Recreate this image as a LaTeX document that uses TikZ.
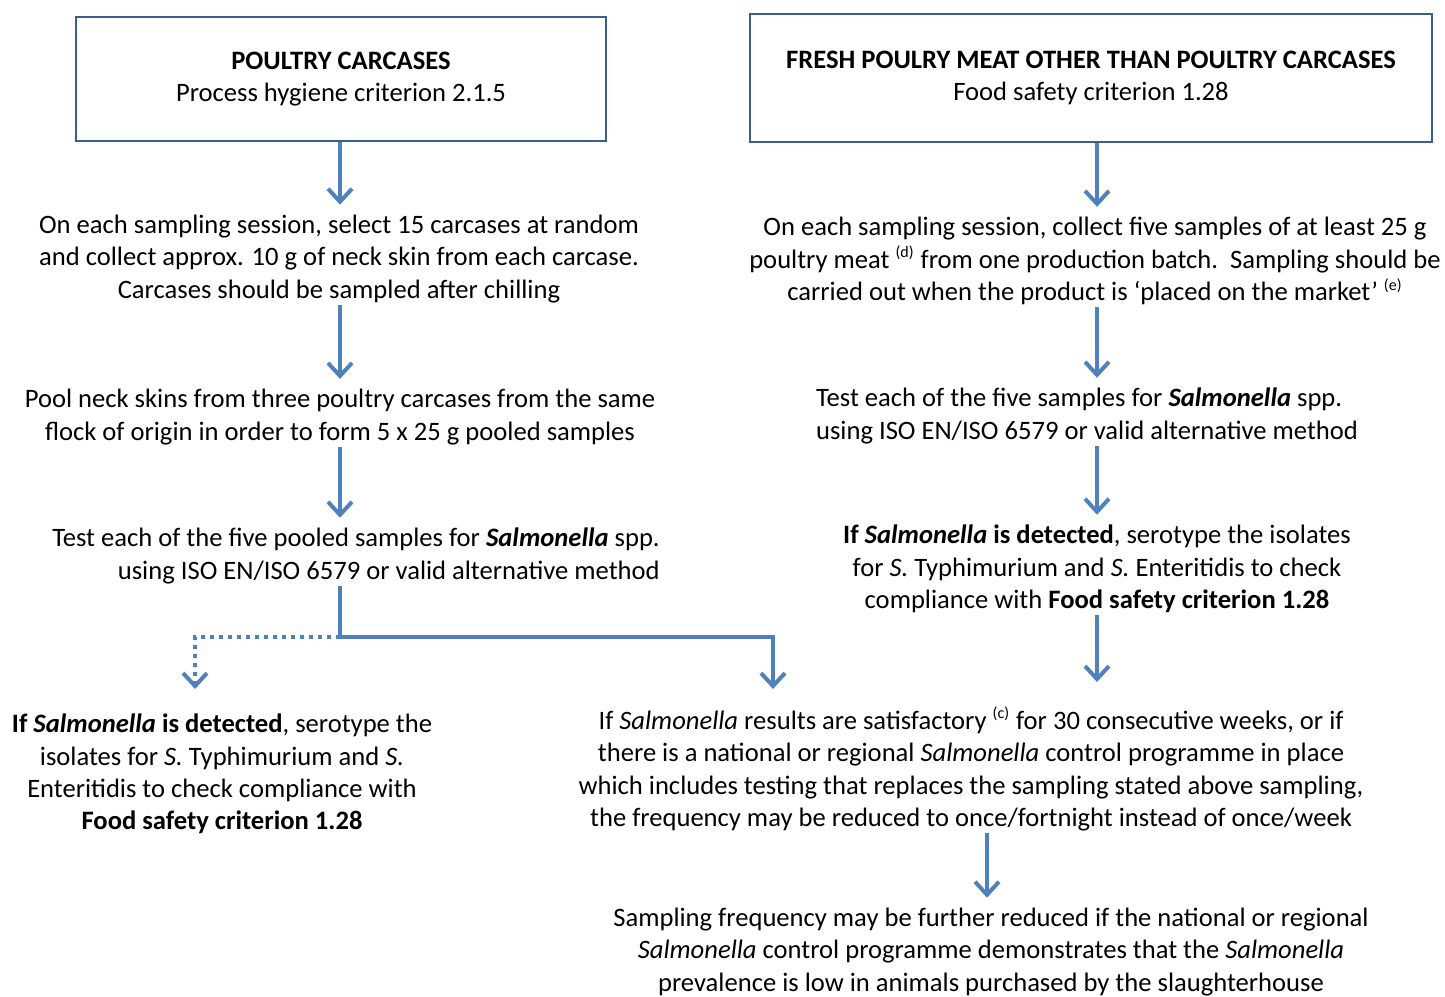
\documentclass[tikz,border=0pt]{standalone}
\usepackage{fontspec}
\setmainfont{Carlito}
\usepackage{xcolor}
\usetikzlibrary{arrows.meta,positioning}
\definecolor{flowblue}{HTML}{4F81BD}
\definecolor{boxline}{HTML}{3A5F8B}
\newcommand{\fn}[1]{\textsuperscript{\fontsize{8}{8}\selectfont(#1)}}

\begin{document}
\begin{tikzpicture}[x=0.5pt, y=-0.5pt,
    header/.style={rectangle, draw=boxline, line width=1.3pt, align=center, inner sep=0pt, font=\fontsize{13.3}{16}\selectfont},
    stage/.style={align=center, inner sep=1pt, font=\fontsize{13.3}{16.2}\selectfont},
    arrow/.style={-{Straight Barb[length=6.5pt, width=12pt]}, line width=2pt, flowblue, shorten >=4pt}
]
    \useasboundingbox (0,0) rectangle (1445,996);

    % the two headers
    \node[header, minimum width=265pt, minimum height=62pt] (carc) at (341,79)
        {\textbf{POULTRY CARCASES}\\Process hygiene criterion 2.1.5};
    \node[header, minimum width=341pt, minimum height=64pt] (meat) at (1091,78)
        {\textbf{FRESH POULRY MEAT OTHER THAN POULTRY CARCASES}\\Food safety criterion 1.28};

    % left column
    \node[stage] (sess) at (339,259)
        {On each sampling session, select 15 carcases at random\\and collect approx. 10 g of neck skin from each carcase.\\Carcases should be sampled after chilling};
    \node[stage] (pool) at (340,417)
        {Pool neck skins from three poultry carcases from the same\\flock of origin in order to form 5 x 25 g pooled samples};
    \node[stage, align=right] (test) at (356,556)
        {Test each of the five pooled samples for \textbf{\textit{Salmonella}} spp.\\using ISO EN/ISO 6579 or valid alternative method};
    \node[stage] (detl) at (222,774)
        {\textbf{If \textit{Salmonella} is detected}, serotype the\\isolates for \textit{S.} Typhimurium and \textit{S.}\\Enteritidis to check compliance with\\\textbf{Food safety criterion 1.28}};

    % right column
    \node[stage] (coll) at (1095,261)
        {On each sampling session, collect five samples of at least 25 g\\poultry meat \fn{d} from one production batch.\ \ Sampling should be\\carried out when the product is `placed on the market' \fn{e}};
    \node[stage, align=left] (testr) at (1087,416)
        {Test each of the five samples for \textbf{\textit{Salmonella}} spp.\\using ISO EN/ISO 6579 or valid alternative method};
    \node[stage] (detr) at (1097,569)
        {\textbf{If \textit{Salmonella} is detected}, serotype the isolates\\for \textit{S.} Typhimurium and \textit{S.} Enteritidis to check\\compliance with \textbf{Food safety criterion 1.28}};

    % reduced frequency
    \node[stage] (freq) at (971,769)
        {If \textit{Salmonella} results are satisfactory \fn{c} for 30 consecutive weeks, or if\\there is a national or regional \textit{Salmonella} control programme in place\\which includes testing that replaces the sampling stated above sampling,\\the frequency may be reduced to once/fortnight instead of once/week};
    \node[stage] (furth) at (991,952)
        {Sampling frequency may be further reduced if the national or regional\\\textit{Salmonella} control programme demonstrates that the \textit{Salmonella}\\prevalence is low in animals purchased by the slaughterhouse};

    \coordinate (split) at (340,637);
    \coordinate (toleft) at (195,697);
    \coordinate (toright) at (773,697);
    \coordinate (tofreq) at (1097,690);

    \draw[arrow] (carc.south -| 340,0) -- (sess.north -| 340,0);
    \draw[arrow] (sess.south -| 340,0) -- (pool.north -| 340,0);
    \draw[arrow] (pool.south -| 340,0) -- (test.north -| 340,0);
    \draw[line width=2pt, flowblue] (test.south -| split) -- (split);
    \draw[arrow] (split) -| (toright);
    \draw[arrow, dash pattern=on 2pt off 2.5pt] (split) -| (toleft);

    \draw[arrow] (meat.south -| 1097,0) -- (coll.north -| 1097,0);
    \draw[arrow] (coll.south -| 1097,0) -- (testr.north -| 1097,0);
    \draw[arrow] (testr.south -| 1097,0) -- (detr.north -| 1097,0);
    \draw[arrow] (detr.south -| tofreq) -- (tofreq);
    \draw[arrow] (freq.south -| 987,0) -- (furth.north -| 987,0);
\end{tikzpicture}
\end{document}
